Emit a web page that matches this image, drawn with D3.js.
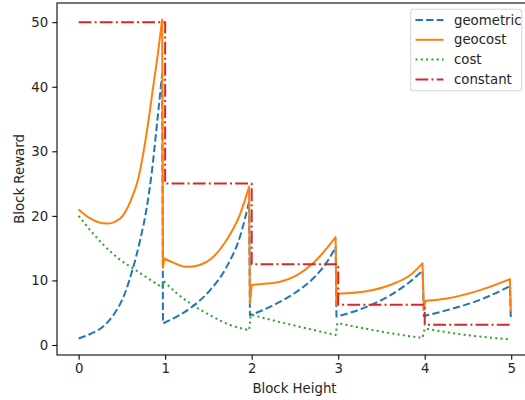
<!DOCTYPE html>
<html>
<head>
<meta charset="utf-8">
<script src="https://cdn.jsdelivr.net/npm/d3@7"></script>
<style>
  body { margin: 0; background: #fff; }
  text { font-family: "DejaVu Sans", sans-serif; fill: #262626; }
</style>
</head>
<body>
<svg id="chart" width="525" height="400"></svg>
<script>
// values (block height in units, reward)
var geoHeight = [0, 0.133, 0.287, 0.42, 0.52, 0.615, 0.71, 0.79, 0.846, 0.904, 0.965,
                 0.975, 1.135, 1.33, 1.52, 1.71, 1.87, 1.97,
                 1.98, 2.13, 2.33, 2.52, 2.71, 2.91, 2.97,
                 2.98, 3.29, 3.6, 3.83, 3.975,
                 3.99, 4.26, 4.64, 4.985, 4.995];
var geoReward = [1.0, 1.7, 2.9, 5.0, 7.5, 11.3, 16.2, 21.5, 26.8, 34.0, 42.0,
                 3.35, 4.4, 6.1, 8.5, 12.1, 17.0, 22.2,
                 4.6, 5.4, 6.7, 8.25, 10.3, 13.7, 15.2,
                 4.4, 5.7, 7.7, 9.8, 11.5,
                 4.5, 5.4, 7.0, 9.1, 4.1];

var geocostHeight = [0, 0.133, 0.325, 0.48, 0.6, 0.69, 0.788, 0.862, 0.92, 0.965,
                     0.975, 0.99, 1.095, 1.25, 1.40, 1.56, 1.71, 1.87, 1.97,
                     1.98, 2.0, 2.13, 2.33, 2.52, 2.71, 2.9, 2.97,
                     2.98, 3.0, 3.29, 3.6, 3.83, 3.975,
                     3.99, 4.01, 4.26, 4.64, 4.985, 4.995];
var geocostReward = [21.0, 19.6, 18.8, 19.6, 22.3, 25.8, 33.0, 40.0, 45.5, 50.4,
                     12.0, 13.4, 12.75, 12.1, 12.4, 13.7, 16.25, 20.4, 24.5,
                     6.45, 9.3, 9.45, 9.8, 10.8, 12.65, 15.5, 16.7,
                     6.2, 7.95, 8.25, 9.3, 10.8, 12.65,
                     5.4, 6.85, 7.2, 8.5, 10.2, 5.2];

var costHeight = [0, 0.133, 0.287, 0.48, 0.67, 0.862, 0.965,
                  0.99, 1.135, 1.29, 1.52, 1.75, 1.97,
                  1.99, 2.25, 2.56, 2.79, 2.97,
                  2.99, 3.29, 3.64, 3.975,
                  4.0, 4.45, 4.99];
var costReward = [20.0, 17.8, 15.5, 13.2, 11.5, 9.8, 8.9,
                  9.8, 8.0, 6.45, 4.6, 3.1, 2.3,
                  4.7, 3.8, 2.8, 2.1, 1.55,
                  3.4, 2.6, 1.75, 1.1,
                  2.55, 1.6, 0.85];

var constHeight = [0, 1, 2, 3, 4, 5.0];
var constReward = [50, 25, 12.5, 6.25, 3.125, 3.125];

var xTicks = [0, 1, 2, 3, 4, 5];
var yTicks = [0, 10, 20, 30, 40, 50];

var svg = d3.select('#chart');

var margin = {left: 57, right: 532, top: 3, bottom: 355};

var x = d3.scaleLinear().domain([-0.25, 5.24]).range([margin.left, margin.right]);
var y = d3.scaleLinear().domain([-1.55, 52.97]).range([margin.bottom, margin.top]);

// curve inside each epoch, straight where the reward jumps
function seriesPath(xs, ys) {
  var line = d3.line().x(d => x(d[0])).y(d => y(d[1])).curve(d3.curveMonotoneX);
  var runs = [];
  for (var i = 0; i < xs.length; i++) {
    if (i == 0 || xs[i] - xs[i - 1] < 0.03) runs.push([]);
    runs[runs.length - 1].push([xs[i], ys[i]]);
  }
  var d = "";
  runs.forEach(function(run, k) {
    var s = run.length == 1 ? "M" + x(run[0][0]) + "," + y(run[0][1]) : line(run);
    if (k > 0) s = "L" + s.slice(1);
    d += s;
  });
  return d;
}

var series = [
  {name: "geometric", color: "#1f77b4", dash: "7.4,3.2", d: seriesPath(geoHeight, geoReward)},
  {name: "geocost", color: "#ff7f0e", dash: null, d: seriesPath(geocostHeight, geocostReward)},
  {name: "cost", color: "#2ca02c", dash: "2,3.3", d: seriesPath(costHeight, costReward)},
  {name: "constant", color: "#d62728", dash: "12.8,3.2,2,3.2",
   d: d3.line().x((d, i) => x(constHeight[i])).y(d => y(d)).curve(d3.curveStepAfter)(constReward)}
];

var plot = svg.append('g');
series.forEach(function(s) {
  plot.append('path')
      .attr('d', s.d)
      .attr('fill', 'none')
      .attr('stroke', s.color)
      .attr('stroke-width', 2)
      .attr('stroke-dasharray', s.dash)
      .attr('stroke-linejoin', 'round');
});

// spines
svg.append('rect')
   .attr('x', margin.left).attr('y', margin.top)
   .attr('width', margin.right - margin.left).attr('height', margin.bottom - margin.top)
   .attr('fill', 'none').attr('stroke', '#000').attr('stroke-width', 1.07);

// axes
var xAxis = svg.append('g').attr('transform', 'translate(0,' + margin.bottom + ')')
   .call(d3.axisBottom(x).tickValues(xTicks).tickSize(4.7).tickPadding(4.2).tickFormat(d3.format('d')));
var yAxis = svg.append('g').attr('transform', 'translate(' + margin.left + ',0)')
   .call(d3.axisLeft(y).tickValues(yTicks).tickSize(4.7).tickPadding(4.2).tickFormat(d3.format('d')));
[xAxis, yAxis].forEach(function(a) {
  a.select('.domain').remove();
  a.selectAll('line').attr('stroke', '#000').attr('stroke-width', 1.07);
  a.selectAll('text').style('font-family', '"DejaVu Sans", sans-serif')
   .style('font-size', '13.3px').attr('fill', '#262626');
});

svg.append('text')
   .attr('x', (margin.left + margin.right) / 2).attr('y', 393)
   .attr('text-anchor', 'middle').style('font-size', '13.3px')
   .text('Block Height');

svg.append('text')
   .attr('transform', 'translate(24,' + ((margin.top + margin.bottom) / 2) + ') rotate(-90)')
   .attr('text-anchor', 'middle').style('font-size', '13.3px')
   .text('Block Reward');

// legend
var legend = svg.append('g');
legend.append('rect')
   .attr('x', 410.7).attr('y', 9.3).attr('width', 111).attr('height', 81.4)
   .attr('rx', 2.7).attr('fill', '#fff').attr('fill-opacity', 0.8)
   .attr('stroke', '#cccccc').attr('stroke-opacity', 0.8).attr('stroke-width', 1.07);
series.forEach(function(s, i) {
  var cy = 20 + i * 19.8;
  legend.append('line')
     .attr('x1', 415.5).attr('x2', 443.5).attr('y1', cy).attr('y2', cy)
     .attr('stroke', s.color).attr('stroke-width', 2)
     .attr('stroke-dasharray', s.dash);
  legend.append('text')
     .attr('x', 454).attr('y', cy).attr('dy', '0.35em')
     .style('font-size', '13.3px')
     .text(s.name);
});
</script>
</body>
</html>
